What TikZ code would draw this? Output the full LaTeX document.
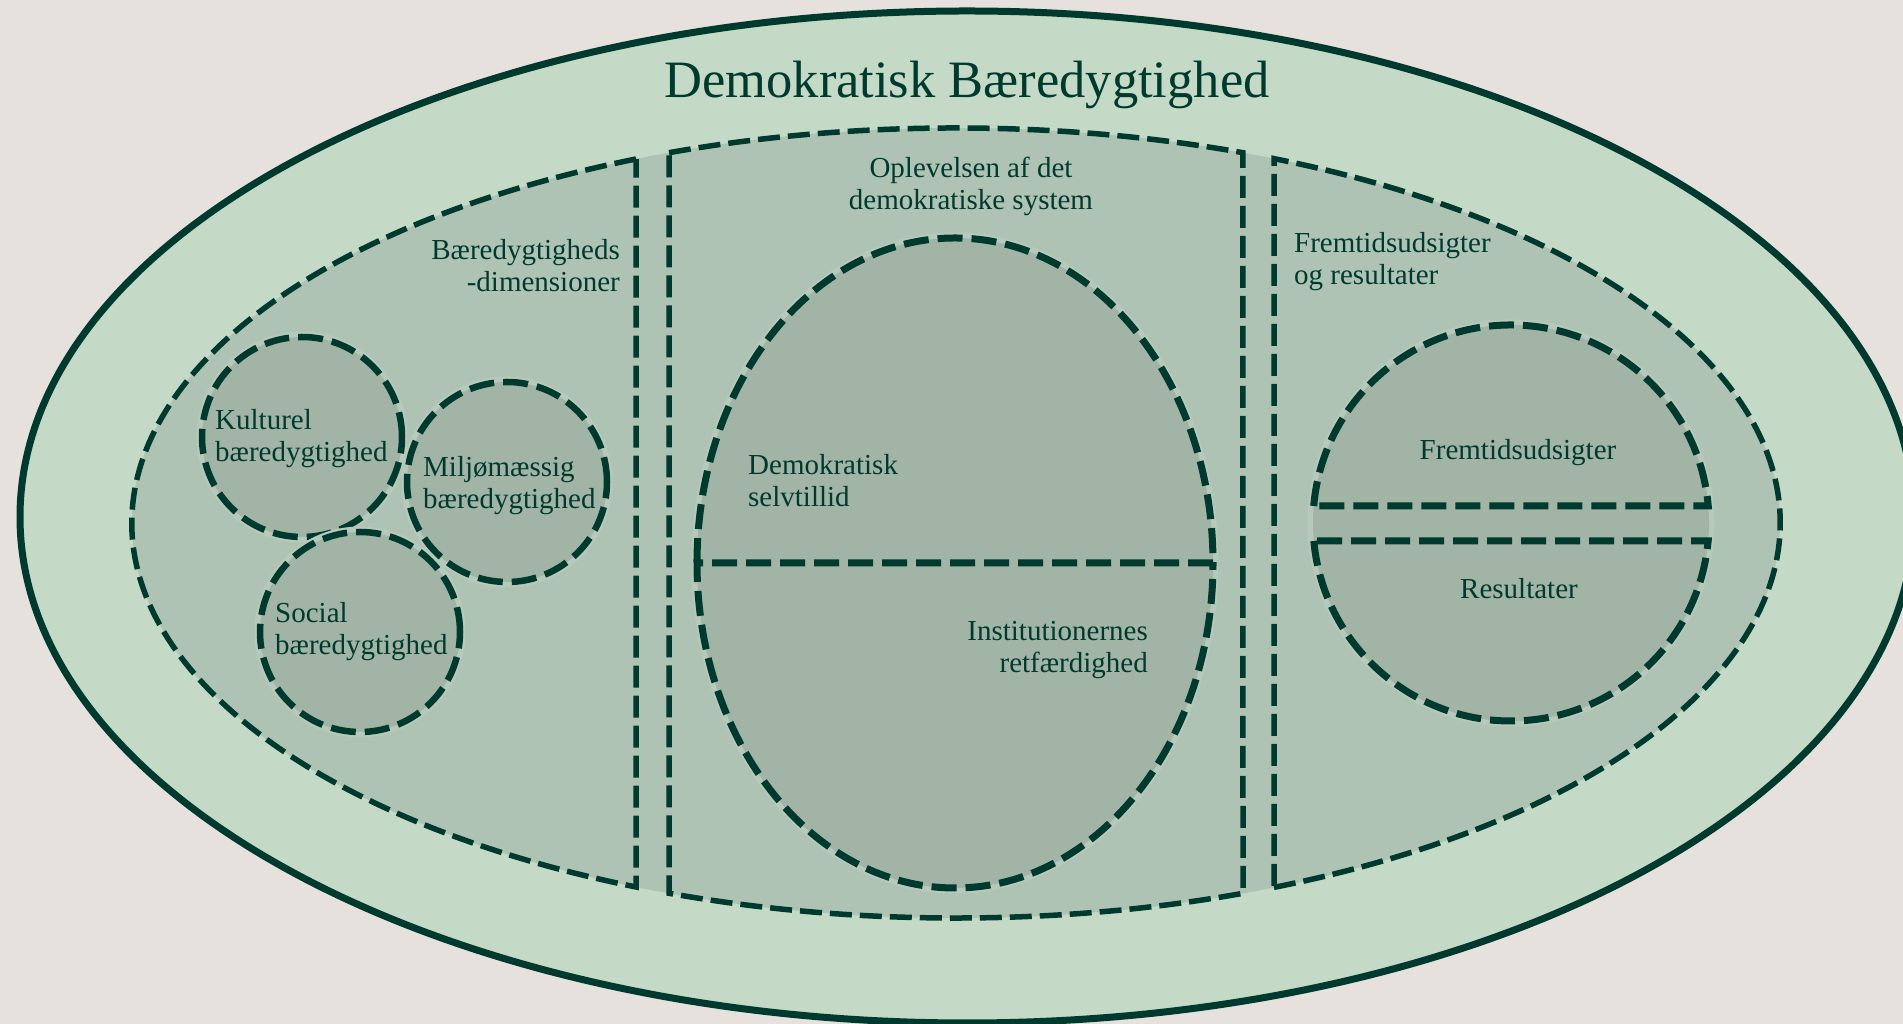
\documentclass[tikz,border=0pt]{standalone}
\usepackage{fontspec}
\setmainfont{Liberation Serif}
\definecolor{bgc}{HTML}{E6E1DC}
\definecolor{outerc}{HTML}{C4D9C6}
\definecolor{basec}{HTML}{AFC3B4}
\definecolor{innerc}{HTML}{A1B4A5}
\definecolor{haloc}{HTML}{B7C9BB}
\definecolor{dk}{HTML}{003A2F}
\begin{document}
\begin{tikzpicture}[x=1pt,y=1pt,
  sect/.style={draw=dk, line width=5.5pt, dash pattern=on 22pt off 8pt},
  innerline/.style={draw=dk, line width=7pt, dash pattern=on 25pt off 9pt},
  halo/.style={draw=haloc, line width=11pt},
  lbl/.style={inner sep=0pt, text=dk, font=\fontsize{29}{32}\selectfont},
]
\fill[bgc] (0,0) rectangle (1903,1024);
\useasboundingbox (0,0) rectangle (1903,1024);
% outer ellipse
\filldraw[fill=outerc, draw=dk, line width=7pt] (967,507) ellipse [x radius=947pt, y radius=506pt];
% base ellipse and three sections
\fill[basec] (956,501) ellipse [x radius=824pt, y radius=395pt];
\draw[sect] (636,865) arc[start angle=112.85, end angle=247.15, x radius=824pt, y radius=395pt] -- cycle;
\draw[sect] (669,871.3) arc[start angle=110.38, end angle=69.62, x radius=824pt, y radius=395pt]
  -- (1243,130.7) arc[start angle=290.38, end angle=249.62, x radius=824pt, y radius=395pt] -- cycle;
\draw[sect] (1274,136.6) arc[start angle=-67.30, end angle=67.30, x radius=824pt, y radius=395pt] -- cycle;
% small circles
\foreach \cx/\cy in {302/587, 507/542, 360/392} {
  \draw[halo] (\cx,\cy) circle [radius=100pt];
  \fill[innerc] (\cx,\cy) circle [radius=100pt];
  \draw[innerline, line width=6.5pt] (\cx,\cy) circle [radius=100pt];
}
% middle ellipse
\draw[halo] (955,461) ellipse [x radius=258pt, y radius=325pt];
\fill[innerc] (955,461) ellipse [x radius=258pt, y radius=325pt];
\draw[innerline] (697,461) arc[start angle=180, end angle=0, x radius=258pt, y radius=325pt];
\draw[innerline] (1213,461) -- (697,461) arc[start angle=180, end angle=360, x radius=258pt, y radius=325pt];
% right circle
\draw[halo] (1511,501) circle [radius=198pt];
\fill[innerc] (1511,501) circle [radius=198pt];
\draw[innerline] (1313.7,518) arc[start angle=175.075, end angle=4.925, radius=198pt] -- cycle;
\draw[innerline] (1313.8,483) arc[start angle=185.216, end angle=354.784, radius=198pt] -- cycle;
% texts (multi-line nodes: base = baseline of last line)
\node[inner sep=0pt, text=dk, font=\fontsize{52.5}{60}\selectfont, anchor=base] (title) at (967,926) {Demokratisk Bæredygtighed};
\node[lbl, anchor=base, align=center] (opl) at (971,814) {Oplevelsen af det\\demokratiske system};
\node[lbl, anchor=base east, align=right] (baer) at (620,732) {Bæredygtigheds\\-dimensioner};
\node[lbl, anchor=base west, align=left] (kult) at (215,562) {Kulturel\\bæredygtighed};
\node[lbl, anchor=base west, align=left] (milj) at (423,515) {Miljømæssig\\bæredygtighed};
\node[lbl, anchor=base west, align=left] (soc) at (275,369) {Social\\bæredygtighed};
\node[lbl, anchor=base west, align=left] (demo) at (748,517) {Demokratisk\\selvtillid};
\node[lbl, anchor=base east, align=right] (inst) at (1148,351) {Institutionernes\\retfærdighed};
\node[lbl, anchor=base west, align=left] (frem) at (1294,739) {Fremtidsudsigter\\og resultater};
\node[lbl, anchor=base] (fremc) at (1518,564) {Fremtidsudsigter};
\node[lbl, anchor=base] (res) at (1519,425) {Resultater};
\end{tikzpicture}
\end{document}
